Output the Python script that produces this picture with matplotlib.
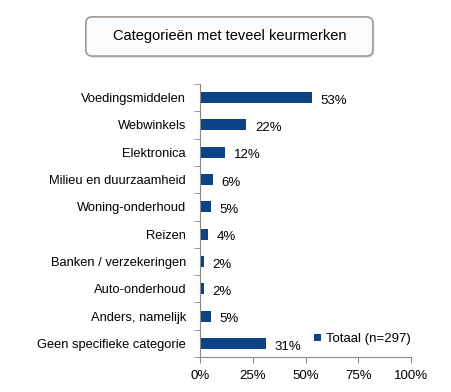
import matplotlib.pyplot as plt
import numpy as np
from matplotlib.patches import FancyBboxPatch

plt.rcParams['font.family'] = ['Liberation Sans', 'DejaVu Sans']

categories = ['Voedingsmiddelen', 'Webwinkels', 'Elektronica', 'Milieu en duurzaamheid',
              'Woning-onderhoud', 'Reizen', 'Banken / verzekeringen', 'Auto-onderhoud',
              'Anders, namelijk', 'Geen specifieke categorie']
values = [53, 22, 12, 6, 5, 4, 2, 2, 5, 31]
xticks = [0, 25, 50, 75, 100]
bar_color = '#0b4385'
axis_color = '#888888'

fig = plt.figure(figsize=(4.52, 3.92), dpi=100)
ax = fig.add_axes([0.4425, 0.089, 0.4675, 0.697])

y = np.arange(len(categories))
ax.barh(y, values, height=0.4, color=bar_color, label='Totaal (n=297)')
for yi, v in zip(y, values):
    ax.text(v + 4, yi + 0.12, f'{v}%', va='center', ha='left', fontsize=9.5)

ax.set_ylim(len(categories) - 0.5, -0.5)
ax.set_xlim(0, 100)
ax.set_yticks(y)
ax.set_yticklabels(categories, fontsize=9.3)
ax.set_yticks(np.arange(-0.5, len(categories), 1), minor=True)
ax.tick_params(axis='y', which='major', length=0, pad=10)
ax.tick_params(axis='y', which='minor', length=4, color=axis_color)
ax.set_xticks(xticks)
ax.set_xticklabels([f'{t}%' for t in xticks], fontsize=9.5)
ax.tick_params(axis='x', length=4, color=axis_color, pad=5)

for s in ['top', 'right']:
    ax.spines[s].set_visible(False)
for s in ['left', 'bottom']:
    ax.spines[s].set_color(axis_color)

leg = ax.legend(loc='lower right', bbox_to_anchor=(1.04, 0.01), frameon=False,
                fontsize=9.5, handlelength=0.5, handleheight=0.5, handletextpad=0.4,
                borderaxespad=0.3)

# title box met schaduw
shadow = FancyBboxPatch((0.193, 0.853), 0.635, 0.1, boxstyle='round,pad=0,rounding_size=0.015',
                        transform=fig.transFigure, facecolor='#d8d8d8', edgecolor='none')
fig.patches.append(shadow)
box = FancyBboxPatch((0.19, 0.857), 0.635, 0.1, boxstyle='round,pad=0,rounding_size=0.015',
                     transform=fig.transFigure, facecolor='#fbfbfb', edgecolor='#a39a94',
                     linewidth=1.2)
fig.patches.append(box)
fig.text(0.508, 0.907, 'Categorieën met teveel keurmerken', ha='center', va='center',
         fontsize=10.5)

fig.savefig('out.png', dpi=100)
